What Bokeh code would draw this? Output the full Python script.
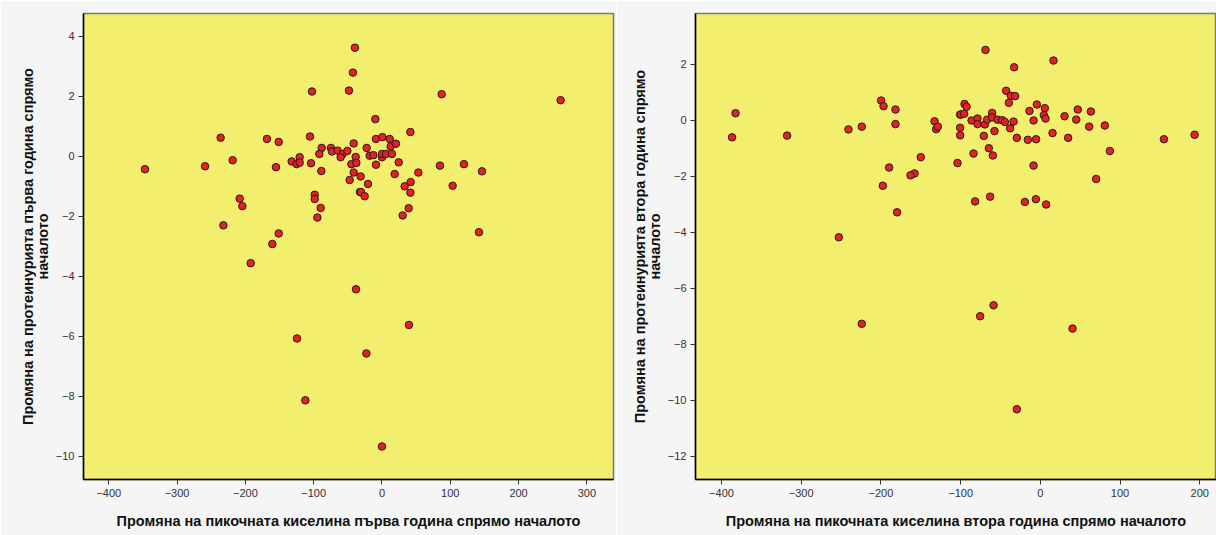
from bokeh.plotting import figure
from bokeh.layouts import row
from bokeh.models import ColumnDataSource, FixedTicker, Range1d
from bokeh.embed import file_html
from bokeh.resources import INLINE

# Left panel: change in uric acid (1st year) vs change in proteinuria (1st year)
x1 = [-39.6, -42.5, -48.3, -102.5, -236.2, -168.4, -151.2, -105.4, -41.4, -88.3, -91.7,
      -74.7, -73.2, -64.9, -57.5, -60.5, -50.7, -38.5, -44.8, -37.5, -41.4, -47.3, -32.2,
      -347.0, -259.0, -218.6, -155.2, -132.2, -124.9, -120.5, -120.5, -103.9, -88.8,
      -98.5, -98.5, -89.7, -94.6, -208.3, -204.4, -232.2, -151.2, -160.5,
      87.4, 261.6, -9.7, 41.6, -8.8, 0.6, 11.3, 12.7, 20.5, -22.4, -18.0, -12.6,
      0.0, 0.0, 5.9, 14.6, -8.8, 24.5, -31.2, -20.5, -30.7, -25.3, 18.6, 53.3, 42.0,
      33.2, 41.6, 39.1, 30.3, 84.9, 120.0, 146.4, 103.5, 142.0,
      -192.2, -38.0, -124.4, -112.2, 39.5, -22.8, 0.0]
y1 = [3.62, 2.79, 2.19, 2.16, 0.62, 0.58, 0.48, 0.66, 0.43, 0.28, 0.08,
      0.28, 0.16, 0.19, 0.08, -0.03, 0.18, -0.02, -0.26, -0.22, -0.54, -0.79, -1.19,
      -0.43, -0.33, -0.13, -0.36, -0.17, -0.26, -0.03, -0.21, -0.23, -0.49,
      -1.28, -1.42, -1.72, -2.04, -1.41, -1.66, -2.30, -2.57, -2.92,
      2.07, 1.87, 1.24, 0.81, 0.58, 0.64, 0.58, 0.33, 0.42, 0.28, 0.02, 0.04,
      -0.03, 0.08, 0.08, 0.08, -0.28, -0.20, -0.67, -0.92, -1.19, -1.33, -0.59, -0.54, -0.86,
      -1.00, -1.21, -1.73, -1.97, -0.31, -0.26, -0.50, -0.98, -2.53,
      -3.56, -4.43, -6.07, -8.13, -5.62, -6.57, -9.67]

# Right panel: change in uric acid (2nd year) vs change in proteinuria (2nd year)
x2 = [-382.4, -386.7, -317.7, -240.7, -224.0, -199.7, -196.7, -181.7, -181.7,
      -132.7, -130.7, -128.6, -100.6, -100.6, -100.6, -103.9, -150.0, -189.7,
      -157.8, -162.9, -197.6, -179.7, -252.8,
      -68.8, 16.5, -32.9, -42.9, -37.0, -31.6, -39.5, -95.1, -92.6, -99.7, -95.6,
      -83.8, -86.3, -78.8, -78.8, -69.6, -66.7, -60.5, -60.5, -57.5, -53.7, -47.9,
      -44.5, -37.9, -33.6, -70.9, -64.6, -59.6, -29.5, -15.7, -5.3,
      -13.6, -4.4, 5.6, 4.4, 6.5, -8.5, 15.3, -8.5, 30.4, 47.0, 45.0, 34.9,
      63.4, 61.3, 80.9, 87.2, 70.0, 155.0, 193.5,
      -81.8, -63.0, -19.4, -5.6, 7.3,
      -58.7, -75.5, 40.4, -29.5, -224.0]
y2 = [0.25, -0.61, -0.55, -0.33, -0.23, 0.70, 0.50, 0.38, -0.14,
      -0.04, -0.32, -0.23, 0.20, -0.27, -0.54, -1.53, -1.32, -1.69,
      -1.90, -1.97, -2.34, -3.29, -4.18,
      2.51, 2.13, 1.89, 1.05, 0.87, 0.86, 0.62, 0.58, 0.48, 0.20, 0.23,
      -1.19, -0.01, 0.06, -0.14, -0.15, 0.02, 0.26, 0.10, -0.39, 0.02, 0.00,
      -0.06, -0.29, -0.05, -0.56, -1.00, -1.26, -0.63, -0.70, -0.68,
      0.33, 0.56, 0.43, 0.18, 0.06, -0.01, -0.46, -1.62, 0.14, 0.38, 0.02, -0.63,
      0.31, -0.23, -0.19, -1.10, -2.10, -0.68, -0.52,
      -2.90, -2.73, -2.92, -2.82, -3.01,
      -6.61, -7.00, -7.44, -10.32, -7.27]

x_ticks1 = [-400, -300, -200, -100, 0, 100, 200, 300]
y_ticks1 = [4, 2, 0, -2, -4, -6, -8, -10]
x_ticks2 = [-400, -300, -200, -100, 0, 100, 200]
y_ticks2 = [2, 0, -2, -4, -6, -8, -10, -12]

xlabel1 = "Промяна на пикочната киселина първа година спрямо началото"
ylabel1 = "Промяна на протеинурията първа година спрямо\nначалото"
xlabel2 = "Промяна на пикочната киселина втора година спрямо началото"
ylabel2 = "Промяна на протеинурията втора година спрямо\nначалото"

BG = "#f5f5f5"
PLOT_BG = "#f1ef6d"
FONT = "Liberation Sans"


def make(xs, ys, xr, yr, xt, yt, xl, yl, width, bl, br):
    p = figure(width=width, height=535, output_backend="svg", toolbar_location=None,
               x_range=Range1d(*xr), y_range=Range1d(*yr),
               min_border_left=bl, min_border_right=br, min_border_top=13,
               min_border_bottom=56)
    p.background_fill_color = PLOT_BG
    p.border_fill_color = BG
    p.outline_line_color = "#7a7a7a"
    p.outline_line_width = 1.5
    p.grid.visible = False
    src = ColumnDataSource(dict(x=xs, y=ys))
    p.scatter("x", "y", source=src, size=7.5, fill_color="#e5202a",
              line_color="#2a1a10", line_width=1)
    p.xaxis.ticker = FixedTicker(ticks=xt)
    p.yaxis.ticker = FixedTicker(ticks=yt)
    p.xaxis.axis_label = xl
    p.yaxis.axis_label = yl
    for ax in (p.xaxis[0], p.yaxis[0]):
        ax.axis_line_color = "#000000"
        ax.axis_line_width = 1.5
        ax.major_tick_line_color = "#333333"
        ax.major_tick_out = 5
        ax.major_tick_in = 0
        ax.minor_tick_line_color = None
        ax.major_label_text_font = FONT
        ax.major_label_text_font_size = "11px"
        ax.major_label_text_color = "#333333"
        ax.axis_label_text_font = FONT
        ax.axis_label_text_font_style = "bold"
        ax.axis_label_text_font_size = "14.5px"
        ax.axis_label_text_color = "#111111"
        ax.axis_label_text_line_height = 0.95
        ax.major_label_standoff = 4
    p.xaxis.axis_label_standoff = 13
    p.yaxis.axis_label_standoff = 2
    return p


p1 = make(x1, y1, (-437, 339), (-10.77, 4.76), x_ticks1, y_ticks1, xlabel1, ylabel1,
          616, 83, 3)
p2 = make(x2, y2, (-432.6, 221), (-12.83, 3.81), x_ticks2, y_ticks2, xlabel2, ylabel2,
          600, 79, 0)

layout = row(p1, p2)
open("out.html", "w").write(file_html(layout, INLINE))
